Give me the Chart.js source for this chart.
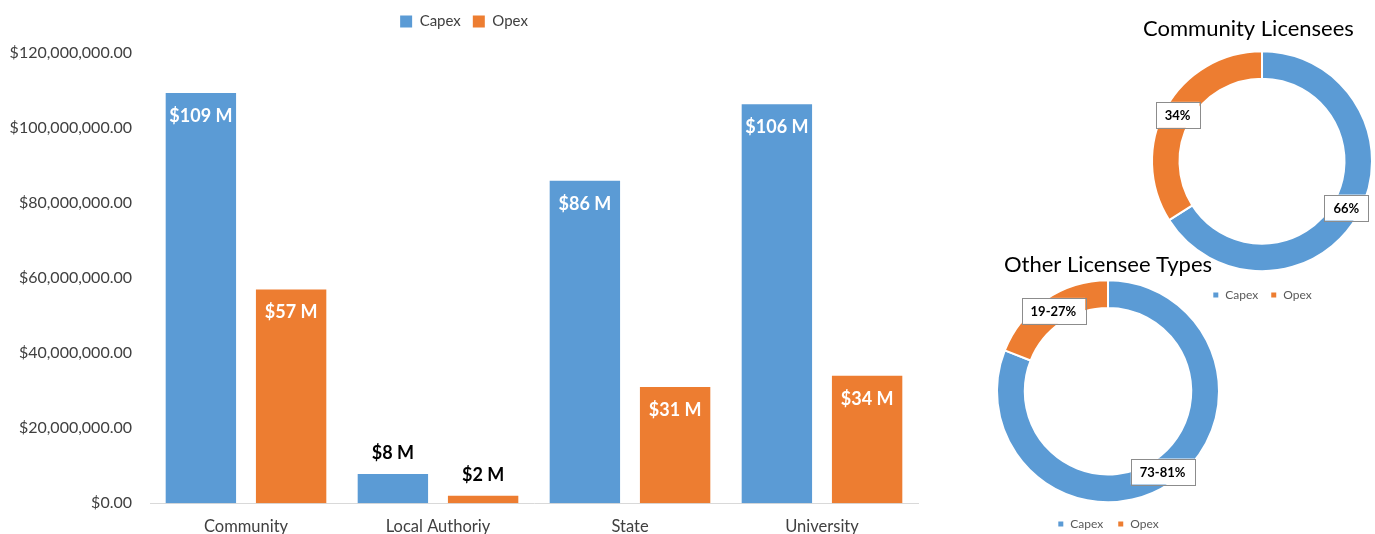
<!DOCTYPE html>
<html lang="en">
<head>
<meta charset="UTF-8">
<title>Capex vs Opex by Licensee Type</title>
<script src="https://cdn.jsdelivr.net/npm/chart.js"></script>
<style>
    body {
        margin: 0;
        background: #fff;
        width: 1375px;
        height: 534px;
        overflow: hidden;
        position: relative;
    }
    .panel { position: absolute; }
</style>
</head>
<body>
<div class="panel" style="left:0;top:0;width:936px;height:551px"><canvas id="barChart"></canvas></div>
<div class="panel" style="left:1130px;top:0;width:264px;height:318px"><canvas id="communityChart"></canvas></div>
<div class="panel" style="left:993px;top:245px;width:230px;height:295px"><canvas id="otherChart"></canvas></div>

<script>
    // spend per licensee type (dollars)
    const categories = ['Community', 'Local Authoriy', 'State', 'University'];
    const capex = [109400000, 7800000, 86000000, 106400000];
    const opex = [57000000, 2000000, 31000000, 34000000];
    const yTicks = [0, 20000000, 40000000, 60000000, 80000000, 100000000, 120000000];

    // share of spend, percent
    const splitNames = ['Capex', 'Opex'];
    const communitySplit = [66, 34];
    const communityText = ['66%', '34%'];
    const otherSplit = [81, 19];
    const otherText = ['73-81%', '19-27%'];

    const BLUE = '#5B9BD5';
    const ORANGE = '#ED7D31';
    const FONT = 'Lato, "Open Sans", sans-serif';

    Chart.defaults.font.family = FONT;
    Chart.defaults.color = '#595959';

    // value labels: white inside tall bars, black above short ones
    const barLabels = {
        id: 'barLabels',
        afterDatasetsDraw(chart) {
            const ctx = chart.ctx;
            ctx.save();
            ctx.font = 'bold 18px ' + FONT;
            ctx.textAlign = 'center';
            ctx.textBaseline = 'middle';
            chart.data.datasets.forEach((ds, i) => {
                chart.getDatasetMeta(i).data.forEach((bar, j) => {
                    const v = ds.data[j];
                    const text = '$' + Math.round(v / 1e6) + ' M';
                    if (v > 20000000) {
                        ctx.fillStyle = '#fff';
                        ctx.fillText(text, bar.x, bar.y + 23);
                    } else {
                        ctx.fillStyle = '#000';
                        ctx.fillText(text, bar.x, bar.y - 21);
                    }
                });
            });
            ctx.restore();
        }
    };

    // boxed percentage labels sitting on the ring
    const ringLabels = {
        id: 'ringLabels',
        afterDatasetsDraw(chart, args, opts) {
            const ctx = chart.ctx;
            ctx.save();
            ctx.font = 'bold 13px ' + FONT;
            ctx.textAlign = 'center';
            ctx.textBaseline = 'middle';
            chart.getDatasetMeta(0).data.forEach((arc, i) => {
                const p = arc.tooltipPosition();
                const text = opts.texts[i];
                const w = ctx.measureText(text).width + 18;
                const h = 26;
                ctx.fillStyle = '#fff';
                ctx.fillRect(p.x - w / 2, p.y - h / 2, w, h);
                ctx.strokeStyle = '#8c8c8c';
                ctx.lineWidth = 1;
                ctx.strokeRect(Math.round(p.x - w / 2) + 0.5, Math.round(p.y - h / 2) + 0.5, Math.round(w), h);
                ctx.fillStyle = '#000';
                ctx.fillText(text, p.x, p.y + 1);
            });
            ctx.restore();
        }
    };

    new Chart(document.getElementById('barChart'), {
        type: 'bar',
        data: {
            labels: categories,
            datasets: [
                { label: 'Capex', data: capex, backgroundColor: BLUE },
                { label: 'Opex', data: opex, backgroundColor: ORANGE }
            ]
        },
        plugins: [barLabels],
        options: {
            responsive: true,
            maintainAspectRatio: false,
            animation: false,
            categoryPercentage: 0.94,
            barPercentage: 0.78,
            layout: { padding: { left: 10, right: 18, top: 2, bottom: 0 } },
            plugins: {
                legend: {
                    position: 'top',
                    labels: {
                        boxWidth: 12,
                        boxHeight: 12,
                        padding: 12,
                        font: { size: 15 },
                        color: '#404040'
                    }
                },
                tooltip: { enabled: false }
            },
            scales: {
                x: {
                    grid: { display: false, drawTicks: false },
                    border: { display: true, color: '#d9d9d9' },
                    ticks: { padding: 14, font: { size: 16.5 }, color: '#404040' }
                },
                y: {
                    min: 0,
                    max: 123800000,
                    afterBuildTicks: scale => { scale.ticks = yTicks.map(v => ({ value: v })); },
                    afterFit: scale => { scale.width = 140; },
                    grid: { display: false, drawTicks: false },
                    border: { display: false },
                    ticks: {
                        padding: 18,
                        font: { size: 16 },
                        color: '#404040',
                        callback: v => '$' + Number(v).toLocaleString('en-US', { minimumFractionDigits: 2 })
                    }
                }
            }
        }
    });

    function ringOptions(title, texts, o) {
        return {
            responsive: true,
            maintainAspectRatio: false,
            animation: false,
            cutout: '75%',
            radius: o.radius,
            layout: { padding: o.padding },
            plugins: {
                title: {
                    display: true,
                    text: title,
                    align: o.align,
                    color: '#000',
                    font: { size: 22, weight: 'normal' },
                    padding: o.titlePad
                },
                legend: {
                    position: 'bottom',
                    labels: {
                        boxWidth: 7,
                        boxHeight: 7,
                        padding: o.legendPad,
                        font: { size: 12 },
                        color: '#595959'
                    }
                },
                tooltip: { enabled: false },
                ringLabels: { texts: texts }
            }
        };
    }

    new Chart(document.getElementById('communityChart'), {
        type: 'doughnut',
        data: {
            labels: splitNames,
            datasets: [{
                data: communitySplit,
                backgroundColor: [BLUE, ORANGE],
                borderColor: '#fff',
                borderWidth: 2
            }]
        },
        plugins: [ringLabels],
        options: ringOptions('Community Licensees', communityText, {
            radius: 110,
            padding: { left: 13, right: 13, top: 0, bottom: 7 },
            align: 'start',
            titlePad: { top: 16, bottom: 3 },
            legendPad: 12
        })
    });

    new Chart(document.getElementById('otherChart'), {
        type: 'doughnut',
        data: {
            labels: splitNames,
            datasets: [{
                data: otherSplit,
                backgroundColor: [BLUE, ORANGE],
                borderColor: '#fff',
                borderWidth: 2
            }]
        },
        plugins: [ringLabels],
        options: ringOptions('Other Licensee Types', otherText, {
            radius: 111,
            padding: { left: 0, right: 0, top: 0, bottom: 0 },
            align: 'center',
            titlePad: { top: 7, bottom: 0 },
            legendPad: 14
        })
    });
</script>
</body>
</html>
